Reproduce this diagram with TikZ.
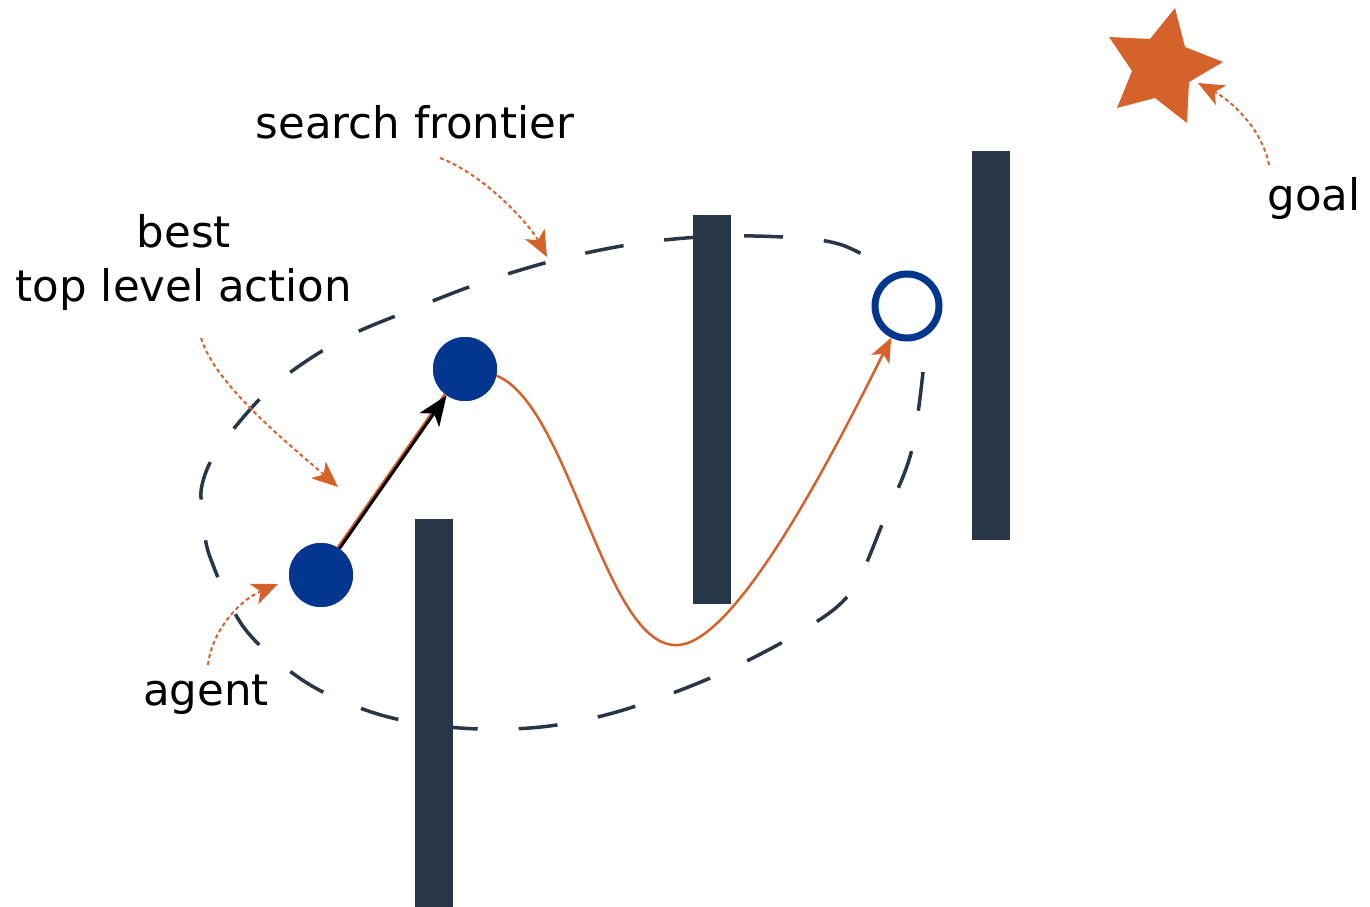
\documentclass[tikz,border=0pt]{standalone}
\usepackage{fontspec}
\setmainfont{DejaVu Sans}
\usetikzlibrary{arrows.meta}
\definecolor{barc}{HTML}{283747}
\definecolor{org}{HTML}{D4622A}
\definecolor{blu}{HTML}{03378F}
\begin{document}
\begin{tikzpicture}[x=1pt,y=-1pt,
  lbl/.style={inner sep=0pt,font=\fontsize{43.5}{54}\selectfont},
  wall/.style={fill=barc},
  frontier/.style={draw=barc,line width=3.5pt,dash pattern=on 39pt off 41pt},
  pointer/.style={draw=org,line width=2pt,dash pattern=on 4pt off 3pt,-{Stealth[length=26pt,width=22pt,inset=7pt]}},
  route/.style={draw=org,line width=2.5pt},
  dot/.style={circle,fill=blu,inner sep=0pt,minimum size=64pt},
  target/.style={circle,draw=blu,line width=7pt,fill=white,inner sep=0pt,minimum size=64pt},
  act/.style={draw=black,line width=3pt,-{Stealth[length=30pt,width=24pt,inset=8pt]}}
]
\useasboundingbox (0,0) rectangle (1370,907);

% search frontier
\draw[frontier] plot[smooth,tension=0.55] coordinates {(923,372) (911,453) (884,520) (851,592) (800,632) (715,676) (620,711) (541,727) (460,728) (381,715) (307,683) (245,629) (210,557) (203,515) (202,485) (219,448) (272,387) (339,341) (408,311) (483,282) (560,259) (640,243) (720,236) (800,238) (842,245) (878,263)};

% walls
\fill[wall] (415,519) rectangle (453,907);
\fill[wall] (693,215) rectangle (731,604);
\fill[wall] (972,151) rectangle (1010,540);

% nodes
\node[dot] (agent) at (321,575) {};
\node[dot] (mid) at (465,369) {};
\node[target] (goalc) at (907,306) {};

% orange route
\draw[route] ([xshift=-2.5pt]agent.center) -- ([xshift=-2.5pt]mid.center);
\draw[route,-{Stealth[length=24pt,width=20pt,inset=6pt]}] (mid.center) -- (mid.-12) .. controls (570,405) and (605,650) .. (678,645) .. controls (740,642) and (845,430) .. (goalc);
% nodes on top of the route
\node[dot] at (mid.center) {};
\node[dot] at (agent.center) {};
% best action arrow
\draw[act] (agent) -- (mid);

% star
\fill[org] (1175,8) -- (1185,47) -- (1223,62) -- (1189,82) -- (1187,123) -- (1155,98) -- (1117,108) -- (1132,71) -- (1109,37) -- (1150,39) -- cycle;

% labels
\node[lbl,anchor=base] (sf) at (415,138) {search frontier};
\node[lbl,align=center] (best) at (184,262.5) {best\\top level action};
\node[lbl,anchor=base] (ag) at (206,705) {agent};
\node[lbl,anchor=base] (gl) at (1314,210) {goal};

% pointer arrows
\coordinate (sfa) at (440,158);
\coordinate (sfb) at (547,257);
\coordinate (bea) at (201,338);
\coordinate (beb) at (338,487);
\coordinate (aga) at (208,665);
\coordinate (agb) at (278,584);
\coordinate (gla) at (1269,165);
\coordinate (glb) at (1198,83);
\draw[pointer] (sfa) .. controls (485,175) and (530,225) .. (sfb);
\draw[pointer] (bea) .. controls (215,385) and (290,445) .. (beb);
\draw[pointer] (aga) .. controls (212,630) and (240,600) .. (agb);
\draw[pointer] (gla) .. controls (1262,128) and (1230,100) .. (glb);
\end{tikzpicture}
\end{document}
